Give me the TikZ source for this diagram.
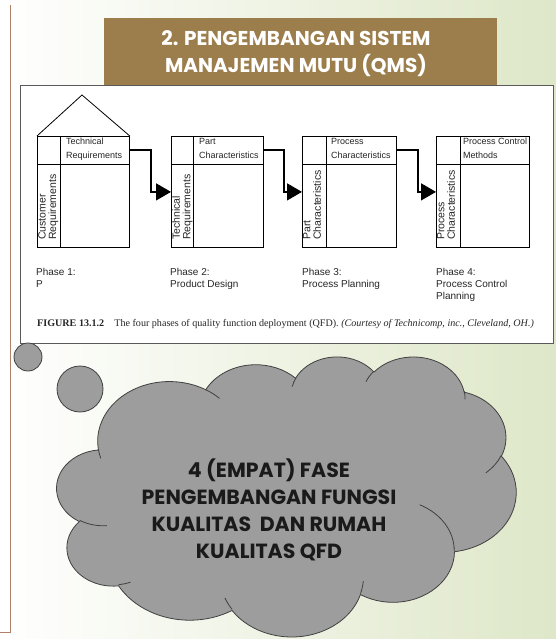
\documentclass[tikz,border=0pt]{standalone}
\usepackage{fontspec}
\setmainfont{Liberation Sans}
\newfontfamily\gothfont{Poppins}
\newfontfamily\capfont{Liberation Serif}
\usetikzlibrary{arrows.meta}

\definecolor{pagegreen}{RGB}{222,231,200}
\definecolor{edgebrown}{RGB}{176,128,104}
\definecolor{titlebrown}{RGB}{156,126,76}
\definecolor{cloudgray}{RGB}{157,157,157}
\definecolor{cloudedge}{RGB}{64,64,64}
\definecolor{framegray}{RGB}{90,90,90}
\definecolor{cloudink}{RGB}{26,26,26}

% Elliptic arc in the 4320 x 4320 cloud grid: x radius, y radius,
% start angle and sweep, both given as visual (not parametric) angles.
\makeatletter
\newcommand\cldarc[4]{%
  \pgfmathsetmacro\cld@a{atan2((#1)*sin(#3),(#2)*cos(#3))}%
  \pgfmathsetmacro\cld@b{atan2((#1)*sin((#3)+(#4)),(#2)*cos((#3)+(#4)))}%
  \pgfmathsetmacro\cld@d{\cld@b-\cld@a}%
  \pgfmathsetmacro\cld@d{ifthenelse((#4)>0, ifthenelse(\cld@d<0, \cld@d+360, \cld@d), ifthenelse(\cld@d>0, \cld@d-360, \cld@d))}%
  \pgfmathsetmacro\cld@b{\cld@a+\cld@d}%
  \pgfpatharcaxes{\cld@a}{\cld@b}{\pgfpointxy{#1}{0}}{\pgfpointxy{0}{#2}}%
}
\newcommand\cldmove[2]{\pgfpathmoveto{\pgfpointxy{#1}{#2}}}
\makeatother

\begin{document}
\begin{tikzpicture}[x=1pt,y=-1pt,
  qline/.style={line width=0.8pt, draw=black},
  qbox/.style={qline, rectangle, minimum height=111pt, anchor=north west, inner sep=0pt},
  hdrtext/.style={font=\fontsize{9}{14}\selectfont, align=left, anchor=north west, inner sep=0pt, text=black!85},
  sidetext/.style={font=\fontsize{10.5}{10.5}\selectfont, align=left, rotate=90, anchor=north west, inner sep=0pt, text=black!85},
  phasetext/.style={font=\fontsize{10}{12}\selectfont, align=left, anchor=north west, inner sep=0pt, text=black!85},
  flow/.style={line width=1.4pt, -{Triangle[length=15pt,width=17pt]}},
  bubble/.style={circle, inner sep=0pt, fill=cloudgray, draw=cloudedge, line width=0.8pt},
]
\useasboundingbox (0,0) rectangle (556,639);
\shade[left color=white, right color=pagegreen] (0,0) rectangle (556,639);
\draw[edgebrown, line width=1pt] (10,5) -- (10,632) -- (0,632);

% heading
\node[fill=titlebrown, minimum width=393pt, minimum height=67pt, anchor=north west, inner sep=0pt] (title) at (104,18) {};
\node[text=white, font=\gothfont\bfseries\fontsize{20}{27}\selectfont, align=center, inner sep=0pt] (titletext) at (296,54) {2. PENGEMBANGAN SISTEM\\MANAJEMEN MUTU (QMS)};

% figure panel
\node[fill=white, draw=framegray, line width=0.8pt, minimum width=533pt, minimum height=258pt, anchor=north west, inner sep=0pt] (panel) at (20,85) {};

% the four phase matrices
\node[qbox, minimum width=92pt] (p1) at (37,136) {};
\node[qbox, minimum width=92pt] (p2) at (171,136) {};
\node[qbox, minimum width=94pt] (p3) at (302,136) {};
\node[qbox, minimum width=93pt] (p4) at (436,136) {};
\foreach \p/\d in {p1/23, p2/22, p3/24, p4/24}{
  \draw[qline] ([yshift=-28pt]\p.north west) -- ([yshift=-28pt]\p.north east);
  \draw[qline] ([xshift=\d pt]\p.north west) -- ([xshift=\d pt]\p.south west);
}
% roof of the house of quality
\draw[qline, line join=miter] (p1.north west) -- (82,95) -- (p1.north east);

\node[hdrtext] (h1) at (66,138) {Technical\\Requirements};
\node[hdrtext] (h2) at (199,138) {Part\\Characteristics};
\node[hdrtext] (h3) at (331,138) {Process\\Characteristics};
\node[hdrtext] (h4) at (463,138) {Process Control\\Methods};

\node[sidetext] (s1) at (38,240) {Customer\\Requirements};
\node[sidetext] (s2) at (172,240) {Technical\\Requirements};
\node[sidetext] (s3) at (303,240) {Part\\Characteristics};
\node[sidetext] (s4) at (437,240) {Process\\Characteristics};

\node[phasetext] (l1) at (36,268.5) {Phase 1:\\P};
\node[phasetext] (l2) at (170,268.5) {Phase 2:\\Product Design};
\node[phasetext] (l3) at (302,268.5) {Phase 3:\\Process Planning};
\node[phasetext] (l4) at (436,268.5) {Phase 4:\\Process Control\\Planning};

\draw[flow] ([yshift=-14pt]p1.north east) -- ++(21,0) |- (p2.west);
\draw[flow] ([yshift=-14pt]p2.north east) -- ++(20,0) |- (p3.west);
\draw[flow] ([yshift=-14pt]p3.north east) -- ++(21,0) |- (p4.west);

\node[anchor=west, inner sep=0pt, font=\capfont\fontsize{10.1}{12}\selectfont, text=black!85] (caption) at (37,324)
  {\textbf{FIGURE 13.1.2}\quad The four phases of quality function deployment (QFD). \textit{(Courtesy of Technicomp, inc., Cleveland, OH.)}};

% thought bubbles
\node[bubble, minimum size=28pt] (b1) at (28,357) {};
\node[bubble, minimum size=46pt] (b2) at (80,389) {};

% cloud outline and creases
\begin{scope}[shift={(56.9,356)}, x=0.1063pt, y=-0.0648pt]
  \begin{pgfscope}
    \pgfsetlinewidth{0.8pt}
    \pgfsetfillcolor{cloudgray}
    \pgfsetstrokecolor{cloudedge}
    \cldmove{390}{1437}
    \cldarc{675.3}{919.0}{-190.4875}{123.7805}
    \cldarc{533.3}{726.7}{-144.1024}{89.9452}
    \cldarc{436.5}{594.5}{-145.8079}{99.7230}
    \cldarc{485.7}{659.5}{-130.9861}{117.2417}
    \cldarc{533.3}{727.3}{-78.7089}{109.0269}
    \cldarc{677.5}{922.0}{-46.2673}{130.2690}
    \cldarc{578.5}{786.7}{0.6250}{114.0333}
    \cldarc{675.2}{921.5}{22.4516}{115.1726}
    \cldarc{772.0}{1054.3}{66.2426}{75.7110}
    \cldarc{436.0}{591.8}{-274.9421}{146.7356}
    \cldarc{434.5}{594.5}{-246.8285}{152.5189}
    \pgfpathclose
    \pgfusepath{fill,stroke}
  \end{pgfscope}
  \begin{pgfscope}
    \pgfsetlinewidth{0.8pt}
    \pgfsetstrokecolor{cloudedge}
    \cldmove{469.3}{2617.7}\cldarc{434.5}{594.5}{86.7420}{26.4295}
    \cldmove{692.8}{3489.9}\cldarc{436.0}{591.8}{73.6105}{11.4475}
    \cldmove{1647.8}{3909.0}\cldarc{675.2}{921.5}{137.6242}{14.0811}
    \cldmove{2882.7}{3475.1}\cldarc{675.2}{921.5}{6.4533}{15.9984}
    \cldmove{3412.9}{2295.4}\cldarc{578.5}{786.7}{-70.2924}{70.9174}
    \cldmove{4179.8}{1535.4}\cldarc{533.3}{727.3}{30.3180}{27.7515}
    \cldmove{3832.4}{542.6}\cldarc{485.7}{659.5}{-13.7443}{14.8589}
    \cldmove{2907.8}{395.2}\cldarc{485.7}{659.5}{-149.1815}{18.1954}
    \cldmove{2214.1}{472.0}\cldarc{436.5}{594.5}{-163.4943}{17.6864}
    \cldmove{1400.0}{519.2}\cldarc{675.3}{919.0}{-66.7070}{12.3194}
    \cldmove{412.7}{1578.9}\cldarc{675.3}{919.0}{157.6544}{11.8582}
    \pgfusepath{stroke}
  \end{pgfscope}
\end{scope}

\node[text=cloudink, font=\gothfont\bfseries\fontsize{20.5}{27}\selectfont, align=center, inner sep=0pt] (cloudtext) at (269,510)
  {4 (EMPAT) FASE\\PENGEMBANGAN FUNGSI\\KUALITAS\ \ DAN RUMAH\\KUALITAS QFD};
\end{tikzpicture}
\end{document}
